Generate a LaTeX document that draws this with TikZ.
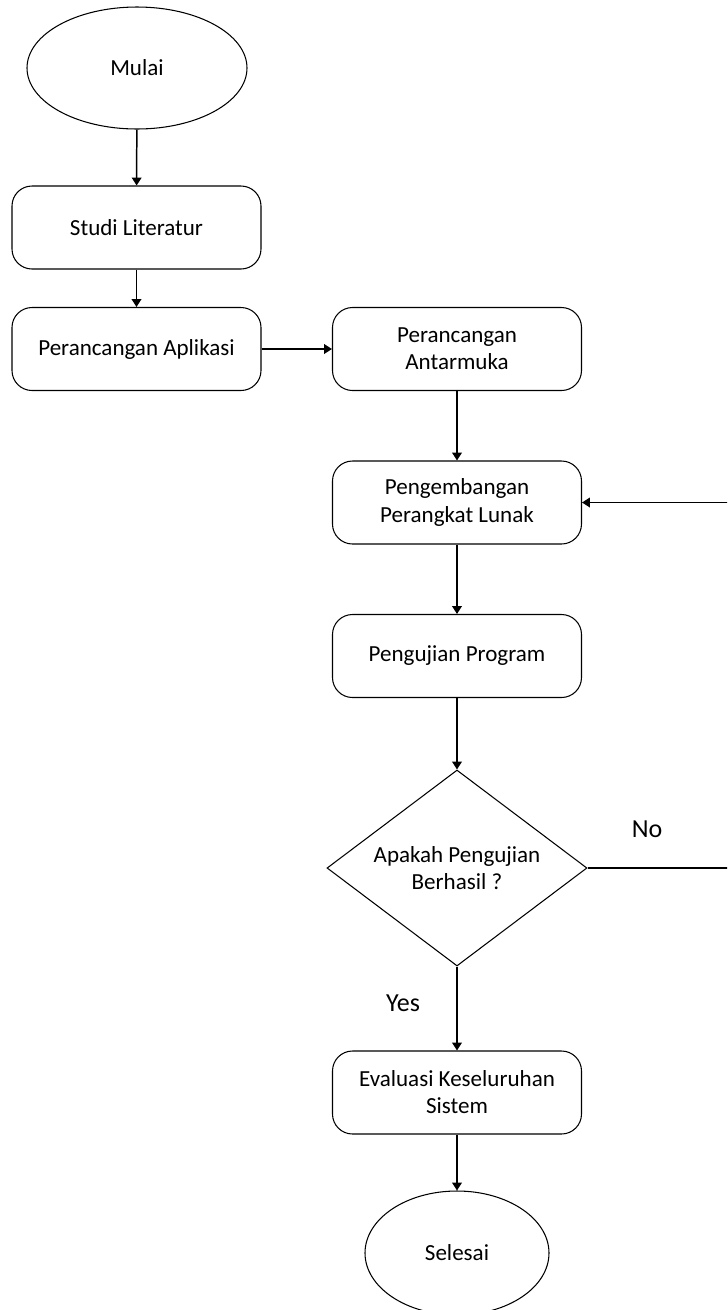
\documentclass[tikz,border=0pt]{standalone}
\usepackage{fontspec}
\setmainfont{Carlito}
\usepackage{tikz}
\usetikzlibrary{arrows.meta,shapes.geometric,positioning}

\begin{document}
\begin{tikzpicture}[scale=1,
	box/.style={draw,rounded corners=0.4cm,minimum width=4.98cm,minimum height=1.66cm,align=center,line width=0.6pt,font=\fontsize{13.1}{15.4}\selectfont},
	term/.style={draw,ellipse,inner sep=0pt,line width=0.6pt,font=\fontsize{13.1}{15.4}\selectfont},
	cond/.style={draw,diamond,shape aspect=1.33,inner sep=0pt,minimum width=5.2cm,minimum height=3.92cm,align=center,line width=0.6pt,font=\fontsize{13.1}{15.4}\selectfont},
	flow/.style={-{Triangle[width=5.5pt,length=4.5pt]},line width=0.85pt},
	lbl/.style={font=\fontsize{14.8}{17}\selectfont}]
	\clip (0,0) rectangle (14.54,-26.2);
	\node[term,minimum width=4.4cm,minimum height=2.44cm] (start) at (2.74,-1.36) {Mulai};
	\node[box] (study) at (2.73,-4.55) {Studi Literatur};
	\node[box] (appdesign) at (2.73,-6.98) {Perancangan Aplikasi};
	\node[box] (uidesign) at (9.14,-6.98) {Perancangan\\Antarmuka};
	\node[box] (devel) at (9.14,-10.05) {Pengembangan\\Perangkat Lunak};
	\node[box] (testing) at (9.14,-13.12) {Pengujian Program};
	\node[cond] (check) at (9.14,-17.36) {Apakah Pengujian\\Berhasil ?};
	\node[box] (eval) at (9.14,-21.85) {Evaluasi Keseluruhan\\Sistem};
	\node[term,minimum width=3.68cm,minimum height=2.48cm] (finish) at (9.14,-25.06) {Selesai};
	\node[lbl] (no) at (12.94,-16.58) {No};
	\node[lbl] (yes) at (8.06,-20.06) {Yes};
	\coordinate (loop) at (14.8,-13.7);
	\draw[flow] (start) -- (study);
	\draw[flow] (study) -- (appdesign);
	\draw[flow] (appdesign) -- (uidesign);
	\draw[flow] (uidesign) -- (devel);
	\draw[flow] (devel) -- (testing);
	\draw[flow] (testing) -- (check);
	\draw[flow] (check) -- (eval);
	\draw[flow] (eval) -- (finish);
	\draw[flow] (check.east) -| (loop) |- (devel.east);
\end{tikzpicture}
\end{document}
